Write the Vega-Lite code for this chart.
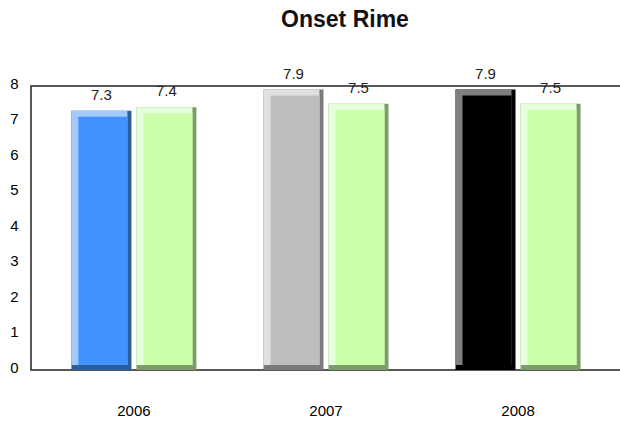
{
  "$schema": "https://vega.github.io/schema/vega-lite/v6.json",
  "width": 590,
  "height": 284,
  "autosize": {"type": "none"},
  "padding": {"left": 31, "top": 86, "right": 0, "bottom": 53},
  "background": "white",
  "title": {"text": "Onset Rime", "font": "Liberation Sans", "fontSize": 23, "fontWeight": "bold", "color": "#111", "anchor": "middle", "dx": 19, "offset": 35},
  "config": {"view": {"stroke": "#222", "strokeWidth": 1.5}, "font": "Liberation Sans"},
  "data": {"values": [
    {"year": "2006", "series": "Selected", "value": 7.3},
    {"year": "2006", "series": "Comparison", "value": 7.4},
    {"year": "2007", "series": "Selected", "value": 7.9},
    {"year": "2007", "series": "Comparison", "value": 7.5},
    {"year": "2008", "series": "Selected", "value": 7.9},
    {"year": "2008", "series": "Comparison", "value": 7.5}
  ]},
  "encoding": {
    "x": {"field": "year", "type": "nominal", "scale": {"paddingInner": 0, "paddingOuter": 0.036},
      "axis": {"title": null, "labelAngle": 0, "domain": false, "ticks": false, "labelPadding": 33, "labelFontSize": 15, "labelColor": "#000", "labelFont": "Liberation Sans"}},
    "y": {"field": "value", "type": "quantitative", "stack": null, "scale": {"domain": [0, 8], "nice": false},
      "axis": {"title": null, "grid": false, "ticks": false, "domain": false, "values": [0, 1, 2, 3, 4, 5, 6, 7, 8], "labelPadding": 13, "labelFontSize": 15, "labelOffset": -3, "labelColor": "#000", "labelFont": "Liberation Sans"}}
  },
  "layer": [
    {
      "mark": {"type": "bar", "width": 60},
      "encoding": {"y2": {"datum": 0},
        "xOffset": {"field": "series", "type": "nominal", "scale": {"type": "band", "domain": ["Selected", "Comparison"], "range": [0, 192], "paddingInner": 0.077, "paddingOuter": 0.515}},
        "color": {"field": "year", "type": "nominal", "legend": null,
        "scale": {"domain": ["2006", "2007", "2008"], "range": ["#2b5c9e", "#7a7a7a", "#000000"]},
        "condition": {"test": "datum.series === 'Comparison'", "value": "#7d9c6a"}}}
    },
    {
      "mark": {"type": "bar", "width": 56, "y2Offset": -5},
      "encoding": {"y2": {"datum": 0},
        "xOffset": {"field": "series", "type": "nominal", "scale": {"type": "band", "domain": ["Selected", "Comparison"], "range": [-2, 190], "paddingInner": 0.077, "paddingOuter": 0.515}},
        "color": {"field": "year", "type": "nominal", "legend": null,
        "scale": {"domain": ["2006", "2007", "2008"], "range": ["#a3c9ff", "#e0e0e0", "#7f7f7f"]},
        "condition": {"test": "datum.series === 'Comparison'", "value": "#e3ffdb"}}}
    },
    {
      "mark": {"type": "bar", "width": 49, "yOffset": 6, "y2Offset": -5},
      "encoding": {"y2": {"datum": 0},
        "xOffset": {"field": "series", "type": "nominal", "scale": {"type": "band", "domain": ["Selected", "Comparison"], "range": [1.5, 193.5], "paddingInner": 0.077, "paddingOuter": 0.515}},
        "color": {"field": "year", "type": "nominal", "legend": null,
        "scale": {"domain": ["2006", "2007", "2008"], "range": ["#4191ff", "#bebebe", "#000000"]},
        "condition": {"test": "datum.series === 'Comparison'", "value": "#ccffaa"}}}
    },
    {
      "mark": {"type": "text", "baseline": "middle", "dy": -16, "fontSize": 15, "color": "#222", "font": "Liberation Sans"},
      "encoding": {
        "xOffset": {"field": "series", "type": "nominal", "scale": {"type": "band", "domain": ["Selected", "Comparison"], "range": [0, 192], "paddingInner": 0.077, "paddingOuter": 0.515}},
        "text": {"field": "value", "type": "quantitative", "format": ".1f"}}
    }
  ],
  "resolve": {"scale": {"color": "independent", "xOffset": "independent"}}
}
